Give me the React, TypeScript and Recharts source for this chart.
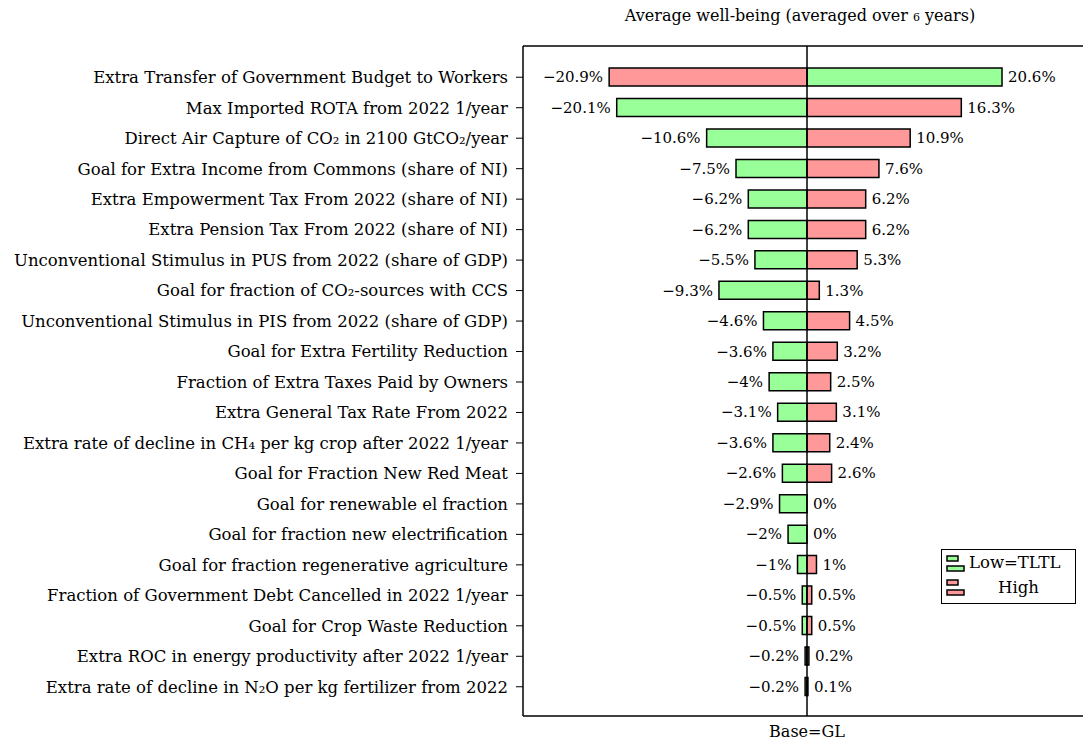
import React from 'react';
import { BarChart, Bar, XAxis, YAxis, ReferenceLine, LabelList, Label } from 'recharts';

const categories = [
  'Extra Transfer of Government Budget to Workers',
  'Max Imported ROTA from 2022 1/year',
  'Direct Air Capture of CO₂ in 2100 GtCO₂/year',
  'Goal for Extra Income from Commons (share of NI)',
  'Extra Empowerment Tax From 2022 (share of NI)',
  'Extra Pension Tax From 2022 (share of NI)',
  'Unconventional Stimulus in PUS from 2022 (share of GDP)',
  'Goal for fraction of CO₂-sources with CCS',
  'Unconventional Stimulus in PIS from 2022 (share of GDP)',
  'Goal for Extra Fertility Reduction',
  'Fraction of Extra Taxes Paid by Owners',
  'Extra General Tax Rate From 2022',
  'Extra rate of decline in CH₄ per kg crop after 2022 1/year',
  'Goal for Fraction New Red Meat',
  'Goal for renewable el fraction',
  'Goal for fraction new electrification',
  'Goal for fraction regenerative agriculture',
  'Fraction of Government Debt Cancelled in 2022 1/year',
  'Goal for Crop Waste Reduction',
  'Extra ROC in energy productivity after 2022 1/year',
  'Extra rate of decline in N₂O per kg fertilizer from 2022',
];

// Low=TLTL scenario (green)
const lowValues = [20.6, -20.1, -10.6, -7.5, -6.2, -6.2, -5.5, -9.3, -4.6, -3.6, -4, -3.1, -3.6, -2.6, -2.9, -2, -1, -0.5, -0.5, -0.2, -0.2];
// High scenario (red)
const highValues = [-20.9, 16.3, 10.9, 7.6, 6.2, 6.2, 5.3, 1.3, 4.5, 3.2, 2.5, 3.1, 2.4, 2.6, 0, 0, 1, 0.5, 0.5, 0.2, 0.1];

const data = categories.map((name, i) => ({ name, low: lowValues[i], high: highValues[i] }));

const FONT = '"DejaVu Serif", serif';
const GREEN = '#99FF99';
const RED = '#FF9999';
const LABEL_SIZE = 15;

const fmt = (v: number) => (v < 0 ? `\u2212${Math.abs(v)}%` : `${v}%`);

const labelText = (x: number, y: number, v: number, anchor: 'start' | 'end', key?: string) => (
  <text key={key} x={x} y={y} dy="0.35em" textAnchor={anchor} fontFamily={FONT} fontSize={LABEL_SIZE} fill="#000">
    {fmt(v)}
  </text>
);

const ValueLabel = (props: any) => {
  const { x, y, width, height, value } = props;
  const v = Number(value);
  const left = Math.min(x, x + width);
  const right = Math.max(x, x + width);
  const cy = y + height / 2;
  return v < 0 ? labelText(left - 6, cy, v, 'end') : labelText(right + 6, cy, v, 'start');
};

// low-bar labels; also puts the label of a zero-size "high" bar at the zero line
const LowLabel = (props: any) => {
  const { x, y, width, height, index } = props;
  const row = data[index];
  const left = Math.min(x, x + width);
  const right = Math.max(x, x + width);
  const cy = y + height / 2;
  const items = [ValueLabel(props)];
  if (row && row.high === 0) {
    items.push(labelText((row.low < 0 ? right : left) + 6, cy, 0, 'start', 'z'));
  }
  return <g>{items}</g>;
};

const LegendIcon = ({ color }: { color: string }) => (
  <svg width={20} height={18} style={{ display: 'block' }}>
    <rect x={1} y={2} width={11} height={5} fill={color} stroke="#000" strokeWidth={1.5} />
    <rect x={1} y={12} width={17} height={5} fill={color} stroke="#000" strokeWidth={1.5} />
  </svg>
);

const axisStroke = { stroke: '#000', strokeWidth: 1.5 };

const App: React.FC = () => {
  return (
    <div style={{ position: 'absolute', left: 0, top: 0, width: 1083, height: 740, overflow: 'hidden', background: '#fff' }}>
      <div
        style={{
          position: 'absolute',
          left: 600,
          width: 400,
          top: 6,
          textAlign: 'center',
          fontFamily: FONT,
          fontSize: 16,
        }}
      >
        Average well-being (averaged over <span style={{ fontSize: 11 }}>6</span> years)
      </div>
      <BarChart
        width={1091}
        height={740}
        data={data}
        layout="vertical"
        stackOffset="sign"
        margin={{ top: 36, right: 0, bottom: 0, left: 0 }}
      >
        <XAxis
          type="number"
          domain={[-30, 30]}
          allowDataOverflow
          tick={false}
          tickLine={false}
          axisLine={axisStroke}
          height={24}
        >
          <Label value="Base=GL" position="insideBottom" offset={3} fontFamily={FONT} fontSize={16} fill="#000" />
        </XAxis>
        <XAxis
          xAxisId="top"
          orientation="top"
          type="number"
          domain={[-30, 30]}
          tick={false}
          tickLine={false}
          axisLine={axisStroke}
          height={10}
        />
        <YAxis
          type="category"
          dataKey="name"
          width={523}
          interval={0}
          padding={{ top: 16, bottom: 14 }}
          tickSize={7}
          tickMargin={8}
          axisLine={axisStroke}
          tickLine={{ stroke: '#000', strokeWidth: 1 }}
          tick={{ fontFamily: FONT, fontSize: 16.5, fill: '#000' }}
        />
        <Bar dataKey="low" stackId="a" fill={GREEN} stroke="#000" strokeWidth={1.5} barSize={18} isAnimationActive={false}>
          <LabelList dataKey="low" content={LowLabel} />
        </Bar>
        <Bar dataKey="high" stackId="a" fill={RED} stroke="#000" strokeWidth={1.5} barSize={18} isAnimationActive={false}>
          <LabelList dataKey="high" content={ValueLabel} />
        </Bar>
        <ReferenceLine x={0} stroke="#000" strokeWidth={1.5} />
      </BarChart>
      <div
        style={{
          position: 'absolute',
          left: 941,
          top: 549,
          width: 133,
          height: 53,
          border: '1.5px solid #000',
          background: '#fff',
          fontFamily: FONT,
          fontSize: 16.5,
        }}
      >
        <div style={{ position: 'absolute', left: 4, top: 4 }}>
          <LegendIcon color={GREEN} />
        </div>
        <div style={{ position: 'absolute', left: 27, top: 3 }}>Low=TLTL</div>
        <div style={{ position: 'absolute', left: 4, top: 28 }}>
          <LegendIcon color={RED} />
        </div>
        <div style={{ position: 'absolute', left: 56, top: 28 }}>High</div>
      </div>
    </div>
  );
};

export default App;
